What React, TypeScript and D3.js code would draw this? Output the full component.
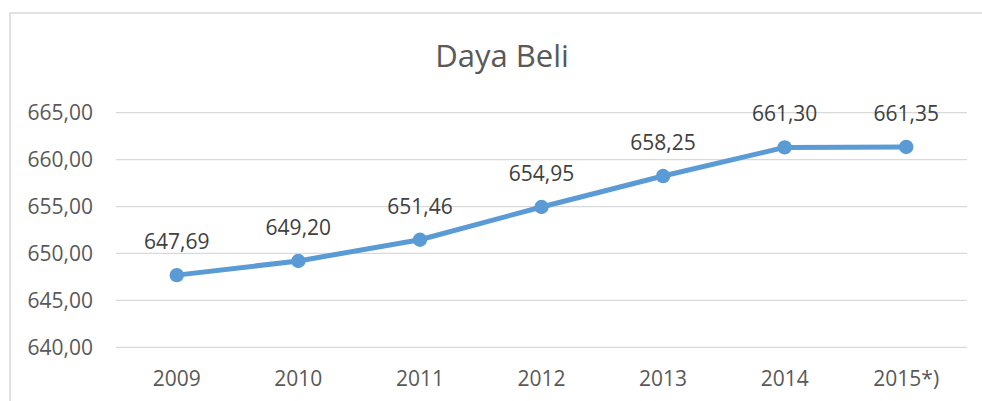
import React from "react";
import * as d3 from "d3";

const categories = ["2009", "2010", "2011", "2012", "2013", "2014", "2015*)"];
const values = [647.69, 649.2, 651.46, 654.95, 658.25, 661.3, 661.35];
const yTicks = [640, 645, 650, 655, 660, 665];
const title = "Daya Beli";

const fmt = (v: number) => v.toFixed(2).replace(".", ",");

export default function App() {
  const W = 982, H = 401;
  const left = 116, right = 967, top = 112.7, bottom = 347.3;
  const x = d3.scaleBand().domain(categories).range([left, right]);
  const y = d3.scaleLinear().domain([640, 665]).range([bottom, top]);
  const line = d3
    .line<number>()
    .x((_, i) => x(categories[i])! + x.bandwidth() / 2)
    .y((d) => y(d));
  const font = "'Open Sans', sans-serif";
  const color = "#595959";
  return (
    <svg
      width={W}
      height={H}
      style={{ position: "absolute", left: 0, top: 0, background: "#fff" }}
    >
      <rect x={10} y={13} width={1000} height={420} fill="#fff" stroke="#d9d9d9" strokeWidth={1.5} />
      <text x={502} y={67} textAnchor="middle" fontFamily={font} fontSize={31} fill={color}>
        {title}
      </text>
      {yTicks.map((t) => (
        <g key={t}>
          <line x1={left} x2={right} y1={y(t)} y2={y(t)} stroke="#d9d9d9" strokeWidth={1.3} />
          <text
            x={93}
            y={y(t)}
            dy="0.35em"
            textAnchor="end"
            fontFamily={font}
            fontSize={21}
            fill={color}
          >
            {fmt(t)}
          </text>
        </g>
      ))}
      {categories.map((c) => (
        <text
          key={c}
          x={x(c)! + x.bandwidth() / 2}
          y={386}
          textAnchor="middle"
          fontFamily={font}
          fontSize={21}
          fill={color}
        >
          {c}
        </text>
      ))}
      <path d={line(values)!} fill="none" stroke="#5B9BD5" strokeWidth={5} strokeLinejoin="round" />
      {values.map((v, i) => (
        <circle
          key={i}
          cx={x(categories[i])! + x.bandwidth() / 2}
          cy={y(v)}
          r={7.2}
          fill="#5B9BD5"
        />
      ))}
      {values.map((v, i) => (
        <text
          key={"l" + i}
          x={x(categories[i])! + x.bandwidth() / 2}
          y={y(v) - 26}
          textAnchor="middle"
          fontFamily={font}
          fontSize={21}
          fill="#404040"
        >
          {fmt(v)}
        </text>
      ))}
    </svg>
  );
}
